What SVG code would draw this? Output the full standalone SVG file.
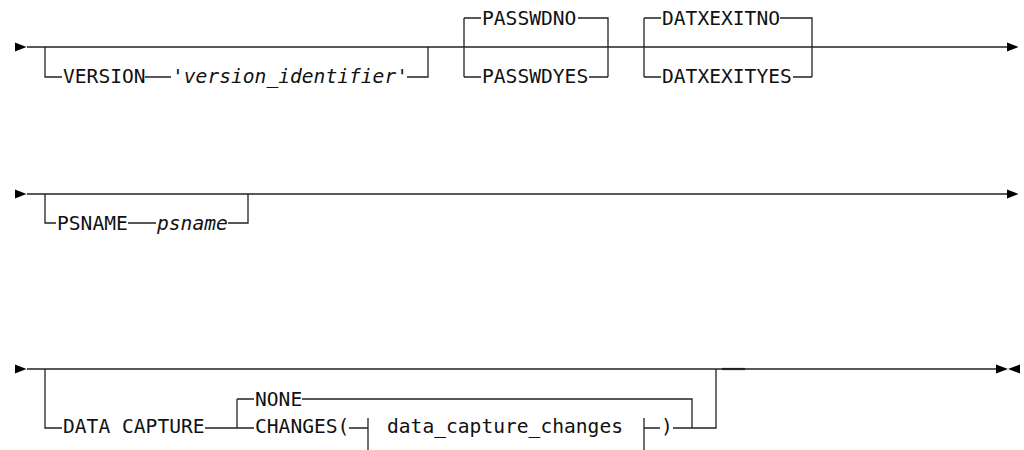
<svg xmlns="http://www.w3.org/2000/svg" width="1024" height="450" viewBox="0 0 1024 450">
<style>
.t{font-family:"DejaVu Sans Mono","Liberation Mono",monospace;font-size:20px;fill:#111}
.i{font-style:italic}
.l{fill:none;stroke:#222;stroke-width:1.3}
.a{fill:#000}
</style>
<rect width="1024" height="450" fill="#fff"/>
<g id="connectors">
<!-- row 1 -->
<path class="a" d="M15,42.5 L26.5,47 L15,51.5 Z"/>
<path class="l" d="M27,47 H1008"/>
<path class="a" d="M1007,42.5 L1018.5,47 L1007,51.5 Z"/>
<path class="l" d="M45,47 V77 H62 M145,77 H171 M407,77 H428 V47"/>
<path class="l" d="M464,18 V77 M464,18 H481 M578,18 H608 V77 M464,77 H481 M589,77 H608"/>
<path class="l" d="M644,18 V77 M644,18 H661 M780,18 H812 V77 M644,77 H661 M793,77 H812"/>
<!-- row 2 -->
<path class="a" d="M15,189.5 L26.5,194 L15,198.5 Z"/>
<path class="l" d="M27,194 H1008"/>
<path class="a" d="M1007,189.5 L1018.5,194 L1007,198.5 Z"/>
<path class="l" d="M45,194 V223 H56 M128,223 H156 M228,223 H248 V194"/>
<!-- row 3 -->
<path class="a" d="M15,364.5 L26.5,369 L15,373.5 Z"/>
<path class="l" d="M27,369 H997"/>
<path class="l" d="M722,369 H745" style="stroke-width:2.2"/>
<path class="a" d="M996,364.5 L1008,369 L996,373.5 Z M1020,364.5 L1008,369 L1020,373.5 Z"/>
<path class="l" d="M45,369 V428 H62 M205,428 H237 M237,399 V428 M237,399 H254 M302,399 H692 V428 M237,428 H254"/>
<path class="l" d="M349,428 H368 M368,418 V450 M644,418 V450 M644,428 H660 M673,428 H716 V369"/>
</g>
<g id="n-version"><text class="t" x="63" y="83" textLength="82.6" lengthAdjust="spacingAndGlyphs">VERSION</text><text class="t i" x="172" y="83" textLength="236" lengthAdjust="spacingAndGlyphs">'version_identifier'</text></g>
<g id="n-passwdno"><text class="t" x="482" y="24.5" textLength="94.4" lengthAdjust="spacingAndGlyphs">PASSWDNO</text></g>
<g id="n-passwdyes"><text class="t" x="482" y="83" textLength="106.2" lengthAdjust="spacingAndGlyphs">PASSWDYES</text></g>
<g id="n-datxexitno"><text class="t" x="662" y="24.5" textLength="118" lengthAdjust="spacingAndGlyphs">DATXEXITNO</text></g>
<g id="n-datxexityes"><text class="t" x="662" y="83" textLength="129.8" lengthAdjust="spacingAndGlyphs">DATXEXITYES</text></g>
<g id="n-psname"><text class="t" x="57" y="229.5" textLength="70.8" lengthAdjust="spacingAndGlyphs">PSNAME</text><text class="t i" x="157" y="229.5" textLength="70.8" lengthAdjust="spacingAndGlyphs">psname</text></g>
<g id="n-datacapture"><text class="t" x="63" y="433" textLength="141.6" lengthAdjust="spacingAndGlyphs">DATA CAPTURE</text></g>
<g id="n-none"><text class="t" x="255" y="405.5" textLength="47.2" lengthAdjust="spacingAndGlyphs">NONE</text></g>
<g id="n-changes"><text class="t" x="255" y="433" textLength="94.4" lengthAdjust="spacingAndGlyphs">CHANGES(</text></g>
<g id="n-dcc"><text class="t" x="387" y="433" textLength="236" lengthAdjust="spacingAndGlyphs">data_capture_changes</text></g>
<g id="n-close"><text class="t" x="661" y="433" textLength="11.8" lengthAdjust="spacingAndGlyphs">)</text></g>
</svg>
